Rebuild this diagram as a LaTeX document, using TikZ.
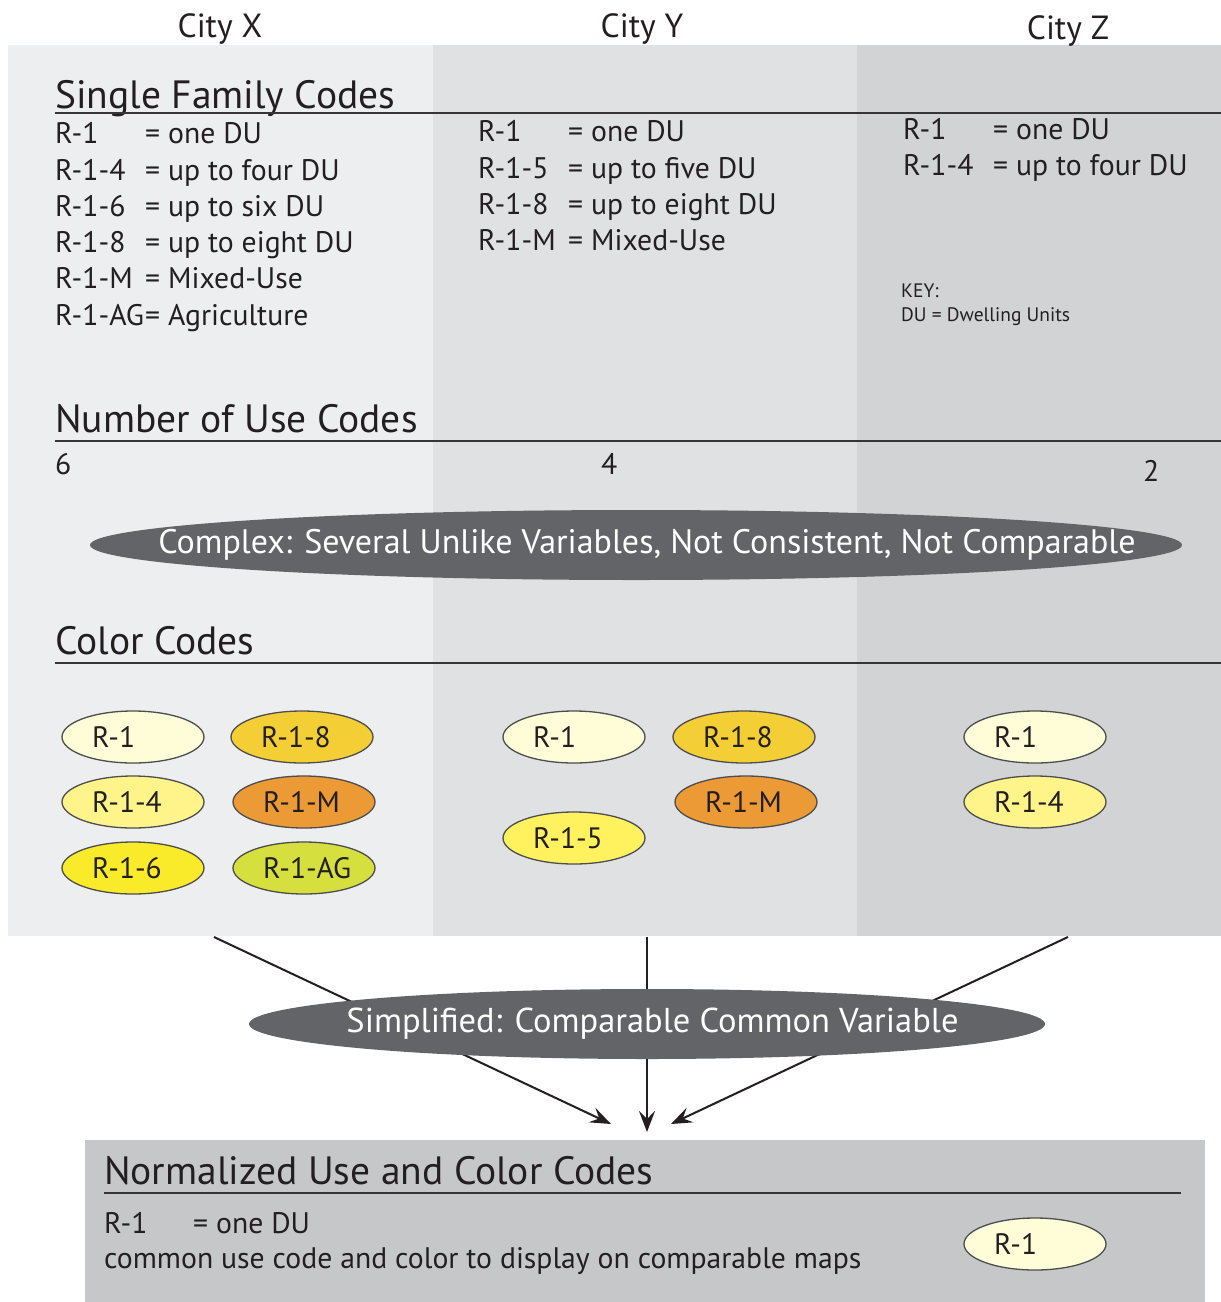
\documentclass[tikz,border=0pt]{standalone}
\usepackage{fontspec}
\setmainfont{PT Sans}
\usetikzlibrary{shapes.geometric,arrows.meta}

\definecolor{ink}{HTML}{231F20}
\definecolor{panelX}{HTML}{EDEEF0}
\definecolor{panelY}{HTML}{E0E1E3}
\definecolor{panelZ}{HTML}{D2D3D5}
\definecolor{panelN}{HTML}{C6C7C9}
\definecolor{oval}{HTML}{636467}
\definecolor{chipedge}{HTML}{4D4D4F}
\definecolor{cR1}{HTML}{FFFCD8}
\definecolor{cR14}{HTML}{FFF48A}
\definecolor{cR15}{HTML}{FFF25E}
\definecolor{cR16}{HTML}{F9EB2A}
\definecolor{cR18}{HTML}{F4CE35}
\definecolor{cR1M}{HTML}{EC9A35}
\definecolor{cR1AG}{HTML}{D5E03E}

% label set flush left inside a colour chip, without widening the chip
\newcommand{\chiplabel}[1]{\makebox[0pt][l]{\hspace*{-41pt}#1}}
% label centred in a dark oval (optionally nudged right), without widening the oval
\newcommand{\ovallabel}[2][0pt]{\makebox[0pt][c]{\hspace*{#1}#2}}

\tikzset{
  every node/.style={text=ink, inner sep=0pt},
  city/.style={font=\fontsize{33.5}{40}\selectfont, anchor=base},
  heading/.style={font=\fontsize{39.5}{46}\selectfont, anchor=base west},
  entry/.style={font=\fontsize{29.7}{35}\selectfont, anchor=base west},
  small/.style={font=\fontsize{19.5}{23}\selectfont, anchor=base west},
  rule/.style={draw=ink!90, line width=2pt},
  chip/.style={ellipse, draw=chipedge, line width=1.3pt, minimum width=142pt,
    minimum height=52pt, font=\fontsize{29.5}{35}\selectfont},
  bigoval/.style={ellipse, fill=oval, text=white, minimum height=70pt},
  flow/.style={draw=ink, line width=2pt},
  flowtip/.style={flow, -{Stealth[length=21pt,width=16pt,inset=8pt]}},
}

\begin{document}
\begin{tikzpicture}[x=1pt,y=-1pt]
\useasboundingbox (0,0) rectangle (1221,1302);
\fill[white] (0,0) rectangle (1221,1302);

% city columns
\fill[panelX] (8,45) rectangle (433,936);
\fill[panelY] (433,45) rectangle (857,936);
\fill[panelZ] (857,45) rectangle (1221,936);

\node[city] (cityx) at (220,37) {City X};
\node[city] (cityy) at (642,37) {City Y};
\node[city] (cityz) at (1068,39) {City Z};

% single family codes
\node[heading] (sfc) at (55,108) {Single Family Codes};
\draw[rule] (55,113) -- (1221,113);

\foreach \code/\desc/\y [count=\i] in {R-1/one DU/143, R-1-4/up to four DU/180,
    R-1-6/up to six DU/216, R-1-8/up to eight DU/252, R-1-M/Mixed-Use/288,
    R-1-AG/Agriculture/325}{
  \node[entry] (xc\i) at (55,\y) {\code};
  \node[entry] (xd\i) at (145,\y) {= \desc};
}
\foreach \code/\desc/\y [count=\i] in {R-1/one DU/141, R-1-5/up to five DU/178,
    R-1-8/up to eight DU/214, R-1-M/Mixed-Use/250}{
  \node[entry] (yc\i) at (478,\y) {\code};
  \node[entry] (yd\i) at (568,\y) {= \desc};
}
\foreach \code/\desc/\y [count=\i] in {R-1/one DU/139, R-1-4/up to four DU/175}{
  \node[entry] (zc\i) at (903,\y) {\code};
  \node[entry] (zd\i) at (993,\y) {= \desc};
}
\node[small] (key) at (901,297) {KEY:};
\node[small] (keydu) at (901,321) {DU = Dwelling Units};

% number of use codes
\node[heading] (nuc) at (55,432) {Number of Use Codes};
\draw[rule] (55,441) -- (1221,441);
\node[entry] (nx) at (55,474) {6};
\node[entry] (ny) at (601,474) {4};
\node[entry] (nz) at (1143,481) {2};

\node[bigoval, minimum width=1092pt, font=\fontsize{34}{40}\selectfont]
  (complex) at (636,545)
  {\ovallabel[22pt]{Complex: Several Unlike Variables, Not Consistent, Not Comparable}};

% color codes
\node[heading] (cc) at (55,654) {Color Codes};
\draw[rule] (55,663) -- (1221,663);

\node[chip, fill=cR1]   (x1)  at (133,737) {\chiplabel{R-1}};
\node[chip, fill=cR14]  (x4)  at (133,802) {\chiplabel{R-1-4}};
\node[chip, fill=cR16]  (x6)  at (133,868) {\chiplabel{R-1-6}};
\node[chip, fill=cR18]  (x8)  at (302,737) {\chiplabel{R-1-8}};
\node[chip, fill=cR1M]  (xm)  at (304,802) {\chiplabel{R-1-M}};
\node[chip, fill=cR1AG] (xag) at (304,868) {\chiplabel{R-1-AG}};

\node[chip, fill=cR1]   (y1)  at (574,737) {\chiplabel{R-1}};
\node[chip, fill=cR15]  (y5)  at (574,838) {\chiplabel{R-1-5}};
\node[chip, fill=cR18]  (y8)  at (744,737) {\chiplabel{R-1-8}};
\node[chip, fill=cR1M]  (ym)  at (746,802) {\chiplabel{R-1-M}};

\node[chip, fill=cR1]   (z1)  at (1035,737) {\chiplabel{R-1}};
\node[chip, fill=cR14]  (z4)  at (1035,802) {\chiplabel{R-1-4}};

% converging arrows
\coordinate (srcx) at (214,937);
\coordinate (srcy) at (647,937);
\coordinate (srcz) at (1068,937);
\coordinate (dstx) at (611,1124);
\coordinate (dsty) at (647,1132);
\coordinate (dstz) at (671,1124);
\draw[flowtip] (srcx) -- (dstx);
\draw[flowtip] (srcy) -- (dsty);
\draw[flowtip] (srcz) -- (dstz);

\node[bigoval, minimum width=796pt, font=\fontsize{34.5}{40}\selectfont]
  (simple) at (647,1024) {\ovallabel[11pt]{Simplified: Comparable Common Variable}};

% normalized result
\fill[panelN] (85,1140) rectangle (1205,1302);
\node[heading] (norm) at (104,1184) {Normalized Use and Color Codes};
\draw[rule] (104,1193) -- (1181,1193);
\node[entry] (nc) at (104,1233) {R-1};
\node[entry] (nd) at (193,1233) {= one DU};
\node[entry] (nt) at (104,1268) {common use code and color to display on comparable maps};
\node[chip, fill=cR1] (n1) at (1035,1244) {\chiplabel{R-1}};
\end{tikzpicture}
\end{document}
